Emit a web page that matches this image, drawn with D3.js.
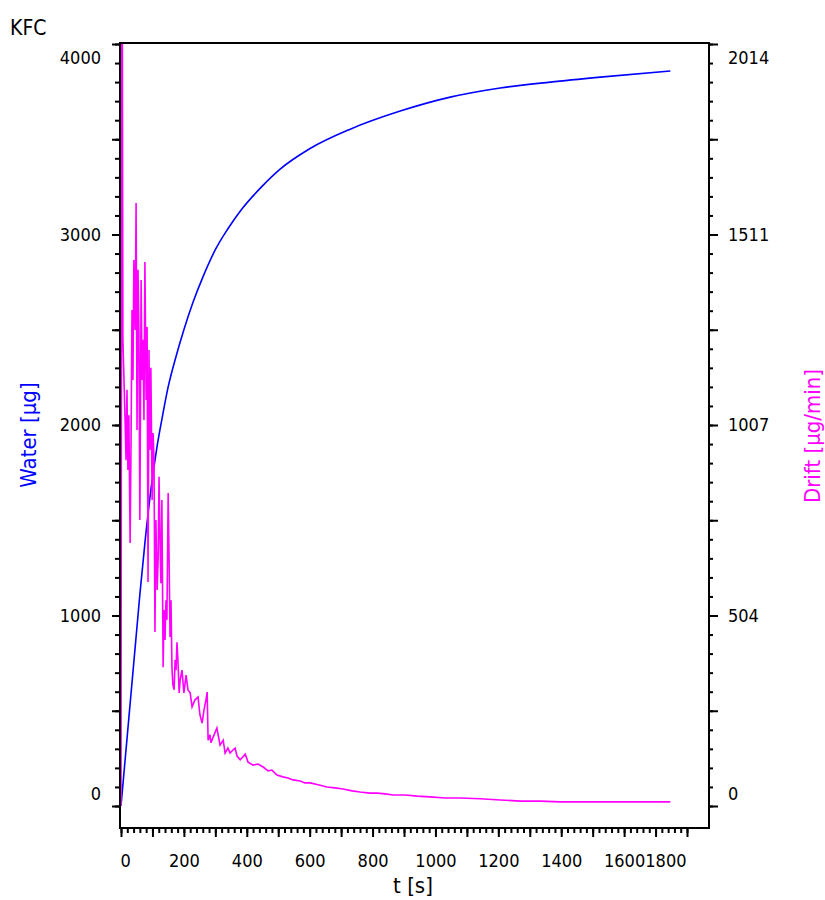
<!DOCTYPE html>
<html>
<head>
<meta charset="utf-8">
<script src="https://cdn.jsdelivr.net/npm/d3@7/dist/d3.min.js"></script>
<style>
  body { margin: 0; background: #fff; }
  svg { display: block; }
  text { font-family: "DejaVu Sans Condensed", "DejaVu Sans", sans-serif; fill: #000; }
</style>
</head>
<body>
<svg id="chart" width="825" height="900"></svg>
<script>
// water curve (left axis)
var waterT = [0, 10, 20, 30, 40, 50, 60, 76, 95, 114, 130, 150, 175, 200, 229, 260, 300, 340, 379, 450, 506, 600, 729, 888, 1047, 1206, 1365, 1524, 1747];
var waterVal = [0, 185, 370, 555, 740, 925, 1110, 1380, 1660, 1880, 2030, 2200, 2360, 2500, 2644, 2775, 2920, 3030, 3122, 3255, 3343, 3450, 3553, 3648, 3721, 3769, 3800, 3826, 3858];

// drift curve (right axis)
var driftT = [0, 3, 6, 13, 16, 19, 22, 25, 29, 32, 35, 38, 41, 45, 48, 51, 54, 57, 60, 64, 67, 70, 73, 76, 80, 83, 86, 89, 92, 95, 99,
	102, 105, 108, 111, 115, 118, 121, 124, 127, 130, 134, 137, 140, 143, 146, 150, 153, 156, 159, 162, 165, 169, 172, 175, 178, 181, 185, 188,
	194, 200, 207, 213, 220, 226, 235, 245, 251, 258, 264, 270, 274, 277, 283, 286, 296, 305, 315, 325, 331, 340, 347, 356, 363, 369, 379,
	388, 395, 404, 420, 436, 452, 468, 480, 496, 515, 531, 547, 570, 585, 601, 627, 655, 681, 706, 735, 760, 792, 815, 840, 866, 904, 942,
	983, 1031, 1079, 1142, 1206, 1270, 1333, 1397, 1461, 1524, 1588, 1651, 1715, 1747];
var driftVal = [0, 2600, 1232, 1020, 914, 1100, 888, 1033, 695, 967, 1311, 1126, 1443, 1258, 1594, 994, 1417, 1250, 756, 1390, 1126, 1232, 1020, 1438, 1073, 1266, 592, 1205, 941, 1158, 809,
	986, 914, 460, 756, 571, 650, 870, 703, 589, 809, 367, 518, 439, 544, 492, 827, 650, 447, 544, 367, 320, 307, 386, 359, 433, 386, 299, 333,
	359, 299, 346, 307, 299, 262, 280, 288, 241, 219, 254, 280, 301, 174, 188, 167, 188, 206, 161, 174, 140, 153, 140, 148, 153, 132, 122,
	130, 137, 116, 108, 111, 103, 93, 95, 82, 77, 74, 69, 66, 61, 61, 56, 50, 48, 45, 40, 37, 34, 34, 32, 29, 29, 26,
	24, 21, 21, 19, 16, 13, 13, 11, 11, 11, 11, 11, 11, 11];

var xTickLabels = [0, 200, 400, 600, 800, 1000, 1200, 1400, 1600, 1800];
var waterTickLabels = [0, 1000, 2000, 3000, 4000];
var driftTickLabels = [0, 504, 1007, 1511, 2014];

var svg = d3.select('#chart');

// frame box
var box = {l: 120, r: 709, t: 43, b: 828};

var x = d3.scaleLinear().domain([0, 1800]).range([121, 687]);
var yW = d3.scaleLinear().domain([0, 4000]).range([806, 44]);
var yD = d3.scaleLinear().domain([0, 2014]).range([806, 44]);

svg.append('defs').append('clipPath').attr('id', 'plotclip')
	.append('rect').attr('x', box.l).attr('y', box.t).attr('width', box.r - box.l).attr('height', box.b - box.t);

// curves
var lineW = d3.line().x((d, i) => x(waterT[i])).y(d => yW(d)).curve(d3.curveMonotoneX);
var lineD = d3.line().x((d, i) => x(driftT[i])).y(d => yD(d));

var g_plot = svg.append('g').attr('clip-path', 'url(#plotclip)');
g_plot.append('path').attr('d', lineW(waterVal))
	.style('fill', 'none').style('stroke', '#0000ff').style('stroke-width', '1.6px');
g_plot.append('path').attr('d', lineD(driftVal))
	.style('fill', 'none').style('stroke', '#ff00ff').style('stroke-width', '1.6px');

// minor ticks
function minorTicks(axis, vals, size) {
	return axis.tickValues(vals).tickSize(size).tickSizeOuter(0).tickFormat('');
}
var xMinor = d3.range(0, 1801, 20);
var wMinor = d3.range(0, 4001, 100);
var dMinor = d3.range(0, 41).map(i => i * 2014 / 40);

svg.append('g').attr('transform', 'translate(0,' + box.b + ')').call(minorTicks(d3.axisBottom(x), xMinor, 5));
svg.append('g').attr('transform', 'translate(' + box.l + ',0)').call(minorTicks(d3.axisLeft(yW), wMinor, 5));
svg.append('g').attr('transform', 'translate(' + box.r + ',0)').call(minorTicks(d3.axisRight(yD), dMinor, 4));

// major ticks + labels
var gx = svg.append('g').attr('transform', 'translate(0,' + box.b + ')')
	.call(d3.axisBottom(x).tickValues(d3.range(0, 1801, 100)).tickSize(9).tickSizeOuter(0)
		.tickFormat(d => xTickLabels.includes(d) ? d : ''));
var gl = svg.append('g').attr('transform', 'translate(' + box.l + ',0)')
	.call(d3.axisLeft(yW).tickValues(d3.range(0, 4001, 500)).tickSize(8).tickSizeOuter(0)
		.tickFormat(d => waterTickLabels.includes(d) ? d : ''));
var gr = svg.append('g').attr('transform', 'translate(' + box.r + ',0)')
	.call(d3.axisRight(yD).tickValues(d3.range(0, 9).map(i => i * 2014 / 8)).tickSize(9).tickSizeOuter(0)
		.tickFormat((d, i) => i % 2 == 0 ? driftTickLabels[i / 2] : ''));

svg.selectAll('.domain').remove();
svg.selectAll('.tick line').style('stroke', '#000').style('stroke-width', '2px');
svg.selectAll('.tick text').style('font-size', '18px').style('fill', '#000');

// x labels, kept inside the axis ends
gx.selectAll('.tick text').attr('y', 26).attr('dy', '0.71em').each(function(d) {
	var w = this.getComputedTextLength();
	var cx = x(d);
	var shift = 0;
	if (cx + w / 2 > x.range()[1] - 1) shift = x.range()[1] - 1 - (cx + w / 2);
	if (cx - w / 2 < box.l) shift = box.l - (cx - w / 2);
	d3.select(this).attr('x', shift);
});
// y labels, end labels pushed inward
function clampY(sel, scale) {
	sel.selectAll('.tick text').each(function(d) {
		var cy = scale(d);
		var c = Math.max(58, Math.min(794, cy));
		d3.select(this).attr('y', c - cy);
	});
}
gl.selectAll('.tick text').attr('x', -19);
gr.selectAll('.tick text').attr('x', 19);
clampY(gl, yW);
clampY(gr, yD);

// frame
svg.append('rect').attr('x', box.l).attr('y', box.t).attr('width', box.r - box.l).attr('height', box.b - box.t)
	.style('fill', 'none').style('stroke', '#000').style('stroke-width', '2px');

// titles
svg.append('text').attr('x', 10).attr('y', 35).text('KFC').style('font-size', '21px');
svg.append('text').attr('x', 413).attr('y', 893).attr('text-anchor', 'middle').text('t [s]').style('font-size', '22px');
svg.append('text').attr('transform', 'translate(36,435) rotate(-90)').attr('text-anchor', 'middle')
	.text('Water [µg]').style('font-size', '22px').style('fill', '#0000ff');
svg.append('text').attr('transform', 'translate(820,436) rotate(-90)').attr('text-anchor', 'middle')
	.text('Drift [µg/min]').style('font-size', '22px').style('fill', '#ff00ff');
</script>
</body>
</html>
